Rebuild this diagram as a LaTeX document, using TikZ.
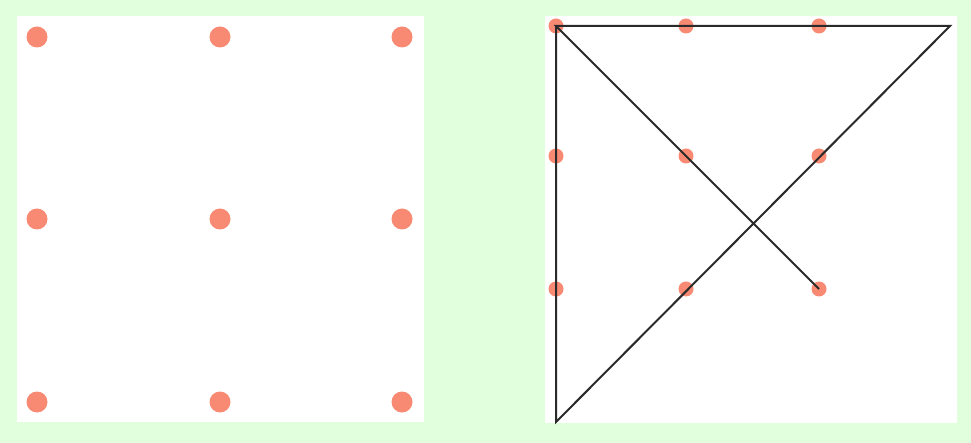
\documentclass[tikz,border=0pt]{standalone}
\definecolor{bg}{HTML}{E2FFDD}
\definecolor{dotc}{HTML}{F88A73}
\definecolor{linec}{HTML}{2A2A2A}
\tikzset{
  bigdot/.style={circle,fill=dotc,inner sep=0pt,minimum size=21pt},
  smalldot/.style={circle,fill=dotc,inner sep=0pt,minimum size=15pt},
  stroke/.style={draw=linec,line width=2pt,line join=miter},
  panel/.style={fill=white,draw=none}
}
\begin{document}
\begin{tikzpicture}[x=1pt,y=-1pt]
\fill[bg] (0,0) rectangle (971,443);
\useasboundingbox (0,0) rectangle (971,443);
\fill[panel] (17,16) rectangle (424,422);
\fill[panel] (545,16) rectangle (957,423);
% left grid
\foreach \i/\x in {1/37,2/220,3/402}{
  \foreach \j/\y in {1/37,2/219,3/402}{
    \node[bigdot] (L\i\j) at (\x,\y) {};
  }
}
% right grid
\foreach \i/\x in {1/556,2/686,3/819}{
  \foreach \j/\y in {1/26,2/156,3/289}{
    \node[smalldot] (R\i\j) at (\x,\y) {};
  }
}
\coordinate (TR) at (950,26);
\coordinate (BL) at (556,422);
\draw[stroke] (R33.center) -- (R11.center) -- (TR) -- (BL) -- (R11.center);
\end{tikzpicture}
\end{document}
